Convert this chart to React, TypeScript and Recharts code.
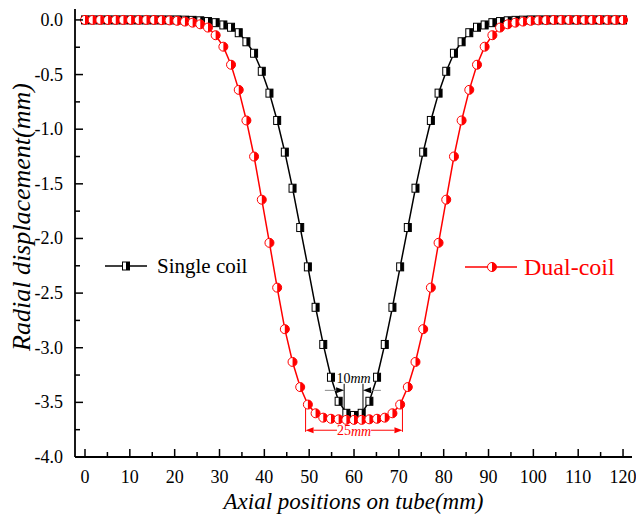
import React from "react";
import { LineChart, Line, XAxis, YAxis, ReferenceLine, ReferenceDot } from "recharts";

document.body.style.margin = "0";

// axial node positions on the tube (mm)
const positions = [
  0, 1.71, 3.43, 5.14, 6.86, 8.57, 10.29, 12, 13.71, 15.43, 17.14, 18.86, 20.57, 22.29, 24, 25.71,
  27.43, 29.14, 30.86, 32.57, 34.29, 36, 37.71, 39.43, 41.14, 42.86, 44.57, 46.29, 48, 49.71, 51.43,
  53.14, 54.86, 56.57, 58.29, 60, 61.71, 63.43, 65.14, 66.86, 68.57, 70.29, 72, 73.71, 75.43, 77.14,
  78.86, 80.57, 82.29, 84, 85.71, 87.43, 89.14, 90.86, 92.57, 94.29, 96, 97.71, 99.43, 101.14, 102.86,
  104.57, 106.29, 108, 109.71, 111.43, 113.14, 114.86, 116.57, 118.29, 120,
];

// radial displacement (mm)
const singleCoil = [
  0, 0, 0, 0, 0, 0, 0, 0, 0, 0, 0, 0, 0,
  -0.002, -0.004, -0.008, -0.015, -0.025, -0.046, -0.067, -0.117, -0.2, -0.305, -0.47, -0.67, -0.92,
  -1.21, -1.54, -1.9, -2.26, -2.63, -2.97, -3.27, -3.49, -3.6, -3.62,
  -3.6, -3.49, -3.27, -2.97, -2.63, -2.26, -1.9, -1.54, -1.21, -0.92, -0.67, -0.47, -0.305, -0.2,
  -0.117, -0.067, -0.046, -0.025, -0.015, -0.008, -0.004, -0.002,
  0, 0, 0, 0, 0, 0, 0, 0, 0, 0, 0, 0, 0,
];

const dualCoil = [
  0, 0, 0, 0, 0, 0, 0, 0, 0, 0,
  -0.002, -0.004, -0.008, -0.015, -0.025, -0.04, -0.07, -0.14, -0.245, -0.41, -0.64, -0.92, -1.25,
  -1.645, -2.04, -2.45, -2.83, -3.13, -3.36, -3.52, -3.6, -3.64, -3.65, -3.655, -3.66, -3.66,
  -3.66, -3.655, -3.65, -3.64, -3.6, -3.52, -3.36, -3.13, -2.83, -2.45, -2.04, -1.645, -1.25, -0.92,
  -0.64, -0.41, -0.245, -0.14, -0.07, -0.04, -0.025, -0.015, -0.008, -0.004, -0.002,
  0, 0, 0, 0, 0, 0, 0, 0, 0, 0,
];

const xMajorTicks = [0, 10, 20, 30, 40, 50, 60, 70, 80, 90, 100, 110, 120];
const xMinorTicks = [5, 15, 25, 35, 45, 55, 65, 75, 85, 95, 105, 115];
const yMajorTicks = [0, -0.5, -1, -1.5, -2, -2.5, -3, -3.5, -4];
const yMinorTicks = [-0.25, -0.75, -1.25, -1.75, -2.25, -2.75, -3.25, -3.75];

const data = positions.map((x, i) => ({ x, single: singleCoil[i], dual: dualCoil[i] }));

const FONT = "'Liberation Serif', 'Times New Roman', serif";
const RED = "#ff0000";

const HalfSquare = ({ cx, cy }: any) => {
  if (cx == null || cy == null) return null;
  return (
    <g>
      <rect x={cx - 3.5} y={cy - 4} width={7} height={8} fill="#fff" stroke="#000" strokeWidth={1} />
      <rect x={cx} y={cy - 4} width={3.5} height={8} fill="#000" />
    </g>
  );
};

const HalfCircle = ({ cx, cy }: any) => {
  if (cx == null || cy == null) return null;
  const r = 4.5;
  return (
    <g>
      <circle cx={cx} cy={cy} r={r} fill="#fff" stroke={RED} strokeWidth={1} />
      <path d={`M ${cx} ${cy - r} A ${r} ${r} 0 0 1 ${cx} ${cy + r} Z`} fill={RED} />
    </g>
  );
};

const XTick = ({ x, y, payload }: any) => {
  const major = xMajorTicks.includes(payload.value);
  return (
    <g>
      <line x1={x} y1={y} x2={x} y2={y - (major ? 8 : 5)} stroke="#000" strokeWidth={1.5} />
      {major && (
        <text x={x} y={y + 26} textAnchor="middle" fontSize={18} fontFamily={FONT} fill="#000">
          {payload.value}
        </text>
      )}
    </g>
  );
};

const YTick = ({ x, y, payload }: any) => {
  const v = payload.value;
  const major = Math.abs(v * 2 - Math.round(v * 2)) < 1e-6;
  return (
    <g>
      <line x1={x} y1={y} x2={x + (major ? 8 : 5)} y2={y} stroke="#000" strokeWidth={1.5} />
      {major && (
        <text x={x - 12} y={y + 6} textAnchor="end" fontSize={18} fontFamily={FONT} fill="#000">
          {Math.abs(v) < 1e-9 ? "0.0" : v.toFixed(1)}
        </text>
      )}
    </g>
  );
};

const arrowLine = (lineColor: string, headColor: string) => (p: any) => {
  const { x1, y1, x2, y2 } = p;
  const ang = Math.atan2(y2 - y1, x2 - x1);
  const L = 8;
  const W = 3;
  const bx = x2 - L * Math.cos(ang);
  const by = y2 - L * Math.sin(ang);
  const px = -Math.sin(ang) * W;
  const py = Math.cos(ang) * W;
  return (
    <g>
      <line x1={x1} y1={y1} x2={bx} y2={by} stroke={lineColor} strokeWidth={1} />
      <polygon points={`${x2},${y2} ${bx + px},${by + py} ${bx - px},${by - py}`} fill={headColor} />
    </g>
  );
};

const dimText = (num: string, color: string, size: number) => (p: any) => (
  <text x={p.cx} y={p.cy} textAnchor="middle" dominantBaseline="central" fontSize={size} fontFamily={FONT} fill={color}>
    {num}
    <tspan fontStyle="italic">mm</tspan>
  </text>
);

export default function App() {
  return (
    <div style={{ position: "relative", width: 636, height: 523, background: "#fff" }}>
      <LineChart width={636} height={523} data={data} margin={{ top: 9, right: 4, bottom: 6, left: 15 }}>
        <XAxis
          dataKey="x"
          type="number"
          domain={[-2.23, 122]}
          ticks={[...xMajorTicks, ...xMinorTicks]}
          interval={0}
          height={60}
          tickSize={0}
          tickMargin={0}
          tickLine={false}
          tick={<XTick />}
          axisLine={{ stroke: "#000", strokeWidth: 1.8 }}
          label={{
            content: ({ viewBox }: any) => (
              <text
                x={viewBox.x + viewBox.width / 2}
                y={viewBox.y + 52}
                textAnchor="middle"
                fontSize={23}
                fontStyle="italic"
                fontFamily={FONT}
                fill="#000"
              >
                Axial positions on tube(mm)
              </text>
            ),
          }}
        />
        <XAxis xAxisId="top" orientation="top" dataKey="x" type="number" domain={[-2.23, 122]} height={0} tick={false} tickLine={false} axisLine={{ stroke: "#000", strokeWidth: 1.8 }} />
        <YAxis
          type="number"
          domain={[-4, 0.1]}
          ticks={[...yMajorTicks, ...yMinorTicks]}
          interval={0}
          width={60}
          tickSize={0}
          tickMargin={0}
          tickLine={false}
          tick={<YTick />}
          axisLine={{ stroke: "#000", strokeWidth: 1.8 }}
          label={{
            content: () => (
              <text
                transform="translate(30, 217) rotate(-90)"
                textAnchor="middle"
                fontSize={26}
                fontStyle="italic"
                fontFamily={FONT}
                fill="#000"
              >
                Radial displacement(mm)
              </text>
            ),
          }}
        />
        <YAxis yAxisId="right" orientation="right" type="number" domain={[-4, 0.1]} width={0} tick={false} tickLine={false} axisLine={{ stroke: "#000", strokeWidth: 1.8 }} />

        <Line
          dataKey="single"
          stroke="#000"
          strokeWidth={1.5}
          isAnimationActive={false}
          dot={(p: any) => <HalfSquare key={`s${p.index}`} cx={p.cx} cy={p.cy} />}
          activeDot={false}
        />
        <Line
          dataKey="dual"
          stroke={RED}
          strokeWidth={1.5}
          isAnimationActive={false}
          dot={(p: any) => <HalfCircle key={`d${p.index}`} cx={p.cx} cy={p.cy} />}
          activeDot={false}
        />

        {/* 10mm dimension */}
        <ReferenceLine segment={[{ x: 57.8, y: -3.33 }, { x: 57.8, y: -3.6 }]} stroke="#000" strokeWidth={1} />
        <ReferenceLine segment={[{ x: 62, y: -3.33 }, { x: 62, y: -3.6 }]} stroke="#000" strokeWidth={1} />
        <ReferenceLine segment={[{ x: 53.5, y: -3.39 }, { x: 57.8, y: -3.39 }]} shape={arrowLine("#888", "#000")} />
        <ReferenceLine segment={[{ x: 66, y: -3.39 }, { x: 62, y: -3.39 }]} shape={arrowLine("#888", "#000")} />
        <ReferenceDot x={59.9} y={-3.28} r={1} shape={dimText("10", "#000", 14)} />

        {/* 25mm dimension */}
        <ReferenceLine segment={[{ x: 49.2, y: -3.5 }, { x: 49.2, y: -3.77 }]} stroke={RED} strokeWidth={1} />
        <ReferenceLine segment={[{ x: 70.8, y: -3.5 }, { x: 70.8, y: -3.77 }]} stroke={RED} strokeWidth={1} />
        <ReferenceLine segment={[{ x: 56.2, y: -3.755 }, { x: 49.2, y: -3.755 }]} shape={arrowLine(RED, RED)} />
        <ReferenceLine segment={[{ x: 63.8, y: -3.755 }, { x: 70.8, y: -3.755 }]} shape={arrowLine(RED, RED)} />
        <ReferenceDot x={60} y={-3.76} r={1} shape={dimText("25", RED, 14)} />
      </LineChart>

      <svg width={636} height={523} style={{ position: "absolute", left: 0, top: 0, pointerEvents: "none" }}>
        <line x1={105} y1={266} x2={147} y2={266} stroke="#000" strokeWidth={1.5} />
        <HalfSquare cx={126} cy={266} />
        <text x={157} y={273} fontSize={21} fontFamily={FONT} fill="#000">
          Single coil
        </text>
        <line x1={465} y1={267} x2={517} y2={267} stroke={RED} strokeWidth={1.5} />
        <HalfCircle cx={492} cy={267} />
        <text x={524} y={275} fontSize={24} fontFamily={FONT} fill={RED}>
          Dual-coil
        </text>
      </svg>
    </div>
  );
}
